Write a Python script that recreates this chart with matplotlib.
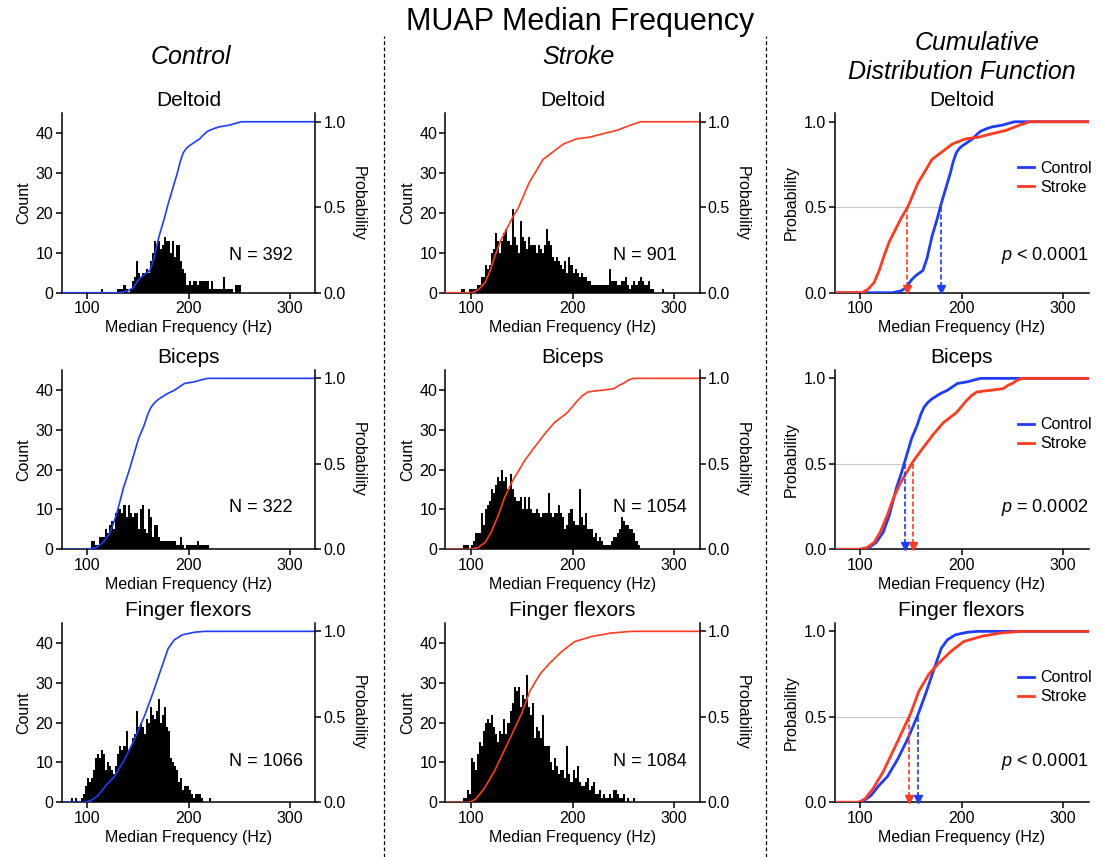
import numpy as np
import matplotlib
matplotlib.use('Agg')
import matplotlib.pyplot as plt
from matplotlib.lines import Line2D

plt.rcParams['font.family'] = ['Liberation Sans', 'DejaVu Sans']
plt.rcParams['mathtext.fontset'] = 'custom'
plt.rcParams['mathtext.it'] = 'Liberation Sans:italic'
plt.rcParams['mathtext.rm'] = 'Liberation Sans'

BLUE = '#1E3CFF'
RED = '#FF3A1E'
BIN_W = 2  # Hz

# ---------------- histogram counts (2 Hz bins, first bin edge given) -------------
ctrl_delt_start = 110
ctrl_delt_counts = [0, 0, 1, 0, 0, 0, 0, 0, 0, 0,
                    1, 1, 1, 2, 1, 0, 1, 3, 4, 8,
                    5, 4, 5, 5, 6, 5, 8, 10, 13, 12,
                    13, 11, 12, 14, 13, 13, 10, 13, 9, 12,
                    12, 8, 6, 5, 2, 3, 2, 3, 3, 2,
                    3, 3, 3, 3, 3, 1, 3, 1, 1, 1,
                    1, 1, 4, 1, 1, 1, 1, 0, 2, 2, 2]

str_delt_start = 90
str_delt_counts = [1, 1, 0, 0, 1, 1, 1, 1, 2, 2,
                   4, 4, 7, 6, 7, 10, 11, 15, 13, 10,
                   13, 15, 16, 13, 12, 21, 14, 12, 10, 18,
                   14, 13, 11, 14, 12, 12, 12, 10, 12, 11,
                   10, 12, 16, 13, 12, 9, 8, 9, 8, 7,
                   6, 8, 5, 9, 7, 5, 6, 5, 4, 5,
                   4, 4, 3, 3, 2, 2, 2, 2, 2, 2,
                   2, 2, 2, 6, 3, 3, 3, 2, 2, 3,
                   3, 4, 2, 1, 2, 3, 2, 3, 4, 3,
                   2, 2, 3, 1, 1, 0, 0, 0, 0, 1]

ctrl_bic_start = 104
ctrl_bic_counts = [2, 2, 1, 1, 3, 3, 3, 5, 4, 6,
                   7, 5, 9, 10, 10, 9, 11, 8, 11, 9,
                   8, 9, 9, 5, 10, 11, 5, 4, 10, 8,
                   3, 6, 6, 3, 2, 2, 2, 2, 2, 2,
                   2, 2, 1, 1, 3, 1, 0, 1, 1, 1,
                   1, 1, 2, 1, 1, 1, 1, 1]

str_bic_start = 92
str_bic_counts = [1, 1, 1, 0, 1, 2, 4, 4, 4, 9,
                  6, 10, 11, 12, 15, 14, 16, 18, 17, 20,
                  17, 18, 15, 19, 15, 13, 12, 12, 13, 10,
                  13, 10, 13, 10, 9, 9, 10, 9, 8, 9,
                  9, 9, 14, 9, 8, 9, 9, 11, 9, 8,
                  5, 6, 9, 10, 7, 6, 6, 15, 8, 6,
                  9, 5, 5, 5, 3, 4, 2, 3, 2, 1,
                  1, 1, 1, 2, 3, 3, 4, 5, 8, 7,
                  6, 6, 5, 5, 4, 2, 1]

ctrl_fing_start = 84
ctrl_fing_counts = [1, 0, 1, 0, 0, 1, 2, 4, 6, 5,
                    6, 8, 11, 12, 11, 13, 12, 8, 10, 9,
                    8, 7, 9, 12, 14, 13, 14, 18, 13, 14,
                    16, 17, 23, 19, 20, 19, 17, 21, 20, 24,
                    22, 21, 23, 26, 20, 22, 24, 19, 18, 11,
                    10, 9, 8, 5, 6, 3, 4, 4, 3, 2,
                    1, 2, 2, 2, 1, 0, 0, 0, 1]

str_fing_start = 92
str_fing_counts = [1, 1, 3, 2, 11, 10, 8, 12, 15, 14,
                   18, 20, 21, 20, 22, 19, 17, 15, 18, 17,
                   21, 17, 20, 23, 25, 29, 28, 29, 24, 27,
                   26, 32, 24, 22, 25, 16, 19, 18, 16, 22,
                   14, 14, 14, 10, 8, 11, 9, 7, 8, 8,
                   6, 14, 7, 5, 8, 6, 9, 5, 4, 4,
                   5, 6, 3, 4, 5, 2, 2, 3, 1, 2,
                   1, 1, 2, 1, 3, 3, 2, 1, 1, 2,
                   0, 1, 0, 0, 1]

# ---------------- cumulative distribution functions --------------------------------
ctrl_delt_cdf_x = [75, 132, 140, 146, 150, 155, 162, 166, 171, 176, 180, 185, 189, 192, 195, 198, 201, 206, 211, 215, 219, 225, 230, 240, 252, 325]
ctrl_delt_cdf_p = [0, 0, 0.01, 0.03, 0.07, 0.10, 0.13, 0.20, 0.33, 0.43, 0.52, 0.62, 0.70, 0.77, 0.82, 0.845, 0.86, 0.88, 0.90, 0.925, 0.945, 0.96, 0.97, 0.98, 1.0, 1.0]
str_delt_cdf_x = [75, 102, 108, 114, 119, 124, 129, 135, 141, 147, 152, 157, 164, 171, 180, 191, 204, 217, 230, 244, 257, 267, 325]
str_delt_cdf_p = [0, 0, 0.02, 0.06, 0.13, 0.22, 0.30, 0.37, 0.44, 0.50, 0.57, 0.64, 0.71, 0.78, 0.82, 0.87, 0.90, 0.91, 0.93, 0.95, 0.98, 1.0, 1.0]

ctrl_bic_cdf_x = [75, 100, 109, 116, 123, 129, 136, 141, 146, 151, 156, 160, 163, 167, 171, 179, 186, 196, 206, 212, 219, 325]
ctrl_bic_cdf_p = [0, 0, 0.01, 0.04, 0.10, 0.20, 0.36, 0.45, 0.55, 0.65, 0.72, 0.79, 0.83, 0.86, 0.88, 0.91, 0.93, 0.97, 0.98, 0.99, 1.0, 1.0]
str_bic_cdf_x = [75, 100, 107, 114, 120, 127, 133, 140, 146, 153, 163, 172, 182, 195, 205, 210, 215, 221, 228, 235, 241, 246, 250, 255, 260, 325]
str_bic_cdf_p = [0, 0, 0.01, 0.04, 0.10, 0.20, 0.30, 0.39, 0.45, 0.52, 0.60, 0.67, 0.74, 0.80, 0.87, 0.90, 0.92, 0.925, 0.93, 0.935, 0.94, 0.96, 0.97, 0.99, 1.0, 1.0]

ctrl_fing_cdf_x = [75, 98, 104, 111, 119, 127, 137, 147, 157, 165, 173, 180, 186, 194, 206, 216, 325]
ctrl_fing_cdf_p = [0, 0, 0.01, 0.04, 0.10, 0.15, 0.25, 0.37, 0.51, 0.64, 0.78, 0.90, 0.95, 0.98, 0.995, 1.0, 1.0]
str_fing_cdf_x = [75, 99, 105, 113, 123, 131, 139, 146, 150, 158, 168, 177, 189, 202, 219, 238, 258, 325]
str_fing_cdf_p = [0, 0, 0.02, 0.08, 0.18, 0.28, 0.38, 0.47, 0.52, 0.65, 0.75, 0.81, 0.88, 0.94, 0.97, 0.99, 1.0, 1.0]

# medians (Hz) and statistics
muscles = ['Deltoid', 'Biceps', 'Finger flexors']
ctrl_median = [179.5, 144, 157]
str_median = [146.5, 152, 148]
ctrl_n = [392, 322, 1066]
str_n = [901, 1054, 1084]
p_text = ['< 0.0001', '= 0.0002', '< 0.0001']

ctrl_hist = [(ctrl_delt_start, ctrl_delt_counts), (ctrl_bic_start, ctrl_bic_counts), (ctrl_fing_start, ctrl_fing_counts)]
str_hist = [(str_delt_start, str_delt_counts), (str_bic_start, str_bic_counts), (str_fing_start, str_fing_counts)]
ctrl_cdf = [(ctrl_delt_cdf_x, ctrl_delt_cdf_p), (ctrl_bic_cdf_x, ctrl_bic_cdf_p), (ctrl_fing_cdf_x, ctrl_fing_cdf_p)]
str_cdf = [(str_delt_cdf_x, str_delt_cdf_p), (str_bic_cdf_x, str_bic_cdf_p), (str_fing_cdf_x, str_fing_cdf_p)]

# ---------------- layout ------------------------------------------------------------
W, H = 1102, 857
fig = plt.figure(figsize=(W / 100, H / 100), dpi=100)

row_bottom = [292.7, 549.3, 802.3]   # pixel y of x-axis
ax_h = 179.5
col_left = [61.5, 445.5, 834.5]
ax_w = 254
n_y = [0.205, 0.235, 0.225]

TICK_FS = 11.5
LAB_FS = 11.5
TITLE_FS = 15


def add_axes(px_left, px_bottom):
    return fig.add_axes([px_left / W, 1 - px_bottom / H, ax_w / W, ax_h / H])


def style(ax):
    ax.spines['top'].set_visible(False)
    ax.spines['right'].set_visible(False)
    for s in ax.spines.values():
        s.set_linewidth(1.1)
    ax.tick_params(direction='out', length=4, width=1.1, labelsize=TICK_FS, pad=2)


def hist_panel(ax, hist, cdf, color, n, title, ny):
    start, counts = hist
    edges = start + BIN_W * np.arange(len(counts))
    ax.bar(edges, counts, width=BIN_W, align='edge', color='black', linewidth=0)
    ax.set_xlim(75, 325)
    ax.set_ylim(0, 45)
    ax.set_xticks([100, 200, 300])
    ax.set_yticks([0, 10, 20, 30, 40])
    style(ax)
    ax.set_ylabel('Count', fontsize=LAB_FS, labelpad=3)
    ax.set_xlabel('Median Frequency (Hz)', fontsize=LAB_FS, labelpad=3)
    ax.set_title(title, fontsize=TITLE_FS, pad=5)
    ax.text(0.66, ny, f'N = {n}', transform=ax.transAxes, fontsize=13,
            ha='left', va='center')
    ax2 = ax.twinx()
    ax2.plot(cdf[0], cdf[1], color=color, lw=1.2)
    ax2.set_ylim(0, 1.05)
    ax2.set_yticks([0, 0.5, 1.0])
    ax2.set_yticklabels(['0.0', '0.5', '1.0'])
    ax2.spines['top'].set_visible(False)
    ax2.spines['left'].set_visible(False)
    ax2.spines['bottom'].set_visible(False)
    ax2.spines['right'].set_linewidth(1.1)
    ax2.tick_params(direction='out', length=4, width=1.1, labelsize=TICK_FS, pad=2)
    ax2.set_ylabel('Probability', fontsize=LAB_FS, rotation=270, labelpad=14)


for r in range(3):
    ax = add_axes(col_left[0], row_bottom[r])
    hist_panel(ax, ctrl_hist[r], ctrl_cdf[r], BLUE, ctrl_n[r], muscles[r], n_y[r])
    ax = add_axes(col_left[1], row_bottom[r])
    hist_panel(ax, str_hist[r], str_cdf[r], RED, str_n[r], muscles[r], n_y[r])

    # cumulative distribution comparison
    ax = add_axes(col_left[2], row_bottom[r])
    ax.set_xlim(75, 325)
    ax.set_ylim(0, 1.05)
    ax.set_xticks([100, 200, 300])
    ax.set_yticks([0, 0.5, 1.0])
    ax.set_yticklabels(['0.0', '0.5', '1.0'])
    style(ax)
    mmax = max(ctrl_median[r], str_median[r])
    ax.plot([75, mmax], [0.5, 0.5], color='#C8C8C8', lw=0.8, zorder=1)
    ax.plot(ctrl_cdf[r][0], ctrl_cdf[r][1], color=BLUE, lw=2.0, label='Control', zorder=3)
    ax.plot(str_cdf[r][0], str_cdf[r][1], color=RED, lw=2.0, label='Stroke', zorder=3)
    for m, c in ((ctrl_median[r], BLUE), (str_median[r], RED)):
        ax.plot([m, m], [0.5, 0.035], color=c, lw=1.2, ls=(0, (3, 1.5)), zorder=4)
        ax.plot([m], [0.02], marker='v', color=c, markersize=5.5, zorder=5, clip_on=False)
    ax.legend(loc='upper right', bbox_to_anchor=(1.04, 0.77), frameon=False,
              fontsize=LAB_FS, handlelength=1.0, handletextpad=0.4,
              labelspacing=0.25, borderaxespad=0)
    ax.text(1.0, n_y[r], r'$p$ ' + p_text[r], transform=ax.transAxes, fontsize=13,
            ha='right', va='center')
    ax.set_ylabel('Probability', fontsize=LAB_FS, labelpad=4)
    ax.set_xlabel('Median Frequency (Hz)', fontsize=LAB_FS, labelpad=3)
    ax.set_title(muscles[r], fontsize=TITLE_FS, pad=5)

# headers
fig.text(580 / W, 1 - 22 / H, 'MUAP Median Frequency', fontsize=22, ha='center', va='center')
fig.text(191 / W, 1 - 57 / H, 'Control', fontsize=18, style='italic', ha='center', va='center')
fig.text(578 / W, 1 - 57 / H, 'Stroke', fontsize=18, style='italic', ha='center', va='center')
fig.text(977 / W, 1 - 43 / H, 'Cumulative', fontsize=18, style='italic', ha='center', va='center')
fig.text(962 / W, 1 - 72 / H, 'Distribution Function', fontsize=18, style='italic', ha='center', va='center')

# column separators
for xs in (384, 766):
    fig.add_artist(Line2D([xs / W, xs / W], [0, 1 - 36 / H], color='black', lw=0.9,
                          ls=(0, (3, 2)), transform=fig.transFigure))

fig.savefig('out.png', dpi=100)
